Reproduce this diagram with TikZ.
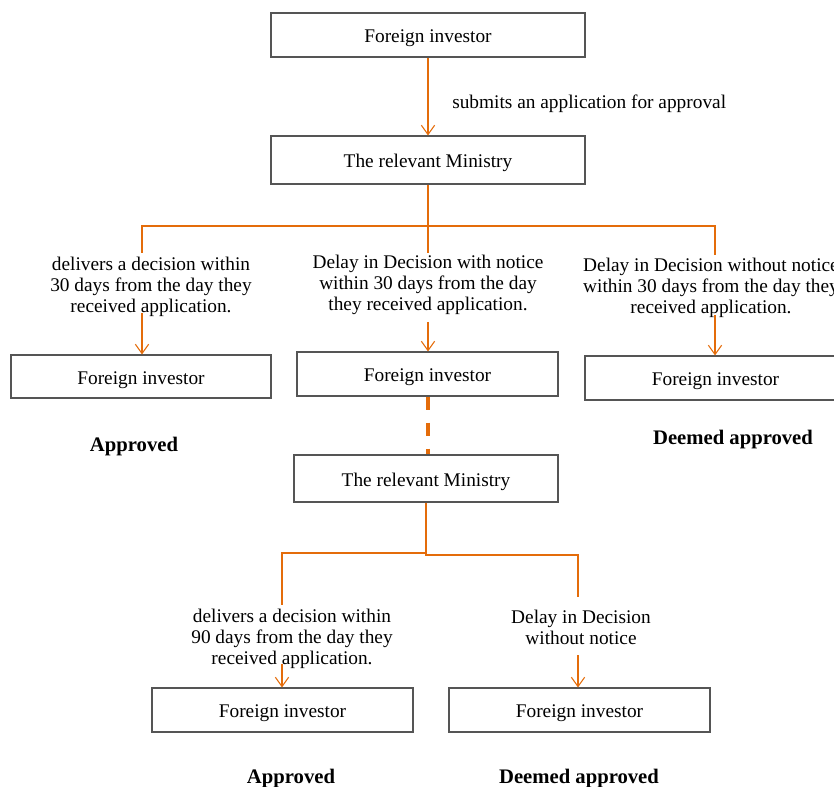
\documentclass[tikz,border=0pt]{standalone}
\usepackage{fontspec}
\setmainfont{Liberation Serif}
\usetikzlibrary{arrows.meta}
\definecolor{flow}{RGB}{228,108,10}
\definecolor{frame}{RGB}{85,85,85}
\begin{document}
\begin{tikzpicture}[x=0.75pt,y=-0.75pt,
  font=\fontsize{14.5pt}{15.75pt}\selectfont,
  box/.style={draw=frame, line width=0.8pt, inner sep=0pt, minimum width=#1, minimum height=33pt,
    text height=14.5pt, text depth=3.2pt},
  note/.style={align=center, inner sep=0pt},
  result/.style={inner sep=0pt, font=\fontsize{15.5pt}{16pt}\selectfont\bfseries},
  link/.style={draw=flow, line width=1.1pt},
  arr/.style={link, -{Straight Barb[length=7pt,width=10pt,line width=0.8pt]}},
  gap/.style={draw=flow, line width=3pt, dash pattern=on 10pt off 9.5pt}
]
\clip (0,0) rectangle (834,787);

% boxes
\node[box=235.5pt] (inv) at (428,35) {Foreign investor};
\node[box=235.5pt, minimum height=36pt] (min) at (428,160) {The relevant Ministry};
\node[box=195pt, minimum height=32.25pt] (invL) at (141,376.5) {Foreign investor};
\node[box=195.75pt] (invM) at (427.5,374) {Foreign investor};
\node[box=195.75pt] (invR) at (715.5,378) {Foreign investor};
\node[box=198pt, minimum height=35.25pt] (min2) at (426,478.5) {The relevant Ministry};
\node[box=195.75pt] (invBL) at (282.5,710) {Foreign investor};
\node[box=195.75pt] (invBR) at (579.5,710) {Foreign investor};

% labels
\node[anchor=west, inner sep=0pt] (sub) at (452,104) {submits an application for approval};
\node[note] (tL) at (151,287) {delivers a decision within\\30 days from the day they\\received application.};
\node[note] (tM) at (428,285) {Delay in Decision with notice\\within 30 days from the day\\they received application.};
\node[note] (tR) at (711,288) {Delay in Decision without notice\\within 30 days from the day they\\received application.};
\node[note] (tBL) at (292,638.5) {delivers a decision within\\90 days from the day they\\received application.};
\node[note] (tBR) at (581,627) {Delay in Decision\\without notice};

\node[result] (okL) at (134,447) {Approved};
\node[result] (dmR) at (733,440) {Deemed approved};
\node[result] (okB) at (291,779) {Approved};
\node[result] (dmB) at (579,779) {Deemed approved};

% connector points
\coordinate (jt) at (428,226);
\coordinate (eL) at (142,253);
\coordinate (eM) at (428,253);
\coordinate (eR) at (715,255);
\coordinate (sL) at (142,313);
\coordinate (sM) at (428,322);
\coordinate (sR) at (715,315);
\coordinate (jl) at (426,553);
\coordinate (jr) at (426,555);
\coordinate (eBL) at (282,605);
\coordinate (eBR) at (578,597);
\coordinate (sBL) at (282,664);
\coordinate (sBR) at (578,655);

% first level
\draw[arr] (inv.south) -- (min.north);
\draw[link] (min.south) -- (eM);
\draw[link] (jt) -| (eL);
\draw[link] (jt) -| (eR);
\draw[arr] (sL) -- (sL |- invL.north);
\draw[arr] (sM) -- (sM |- invM.north);
\draw[arr] (sR) -- (sR |- invR.north);

% waiting period
\draw[gap] (invM.south) -- (invM.south |- min2.north);

% second level
\draw[link] (min2.south) -- (jr) -| (eBR);
\draw[link] (jl) -| (eBL);
\draw[arr] (sBL) -- (sBL |- invBL.north);
\draw[arr] (sBR) -- (sBR |- invBR.north);
\end{tikzpicture}
\end{document}
